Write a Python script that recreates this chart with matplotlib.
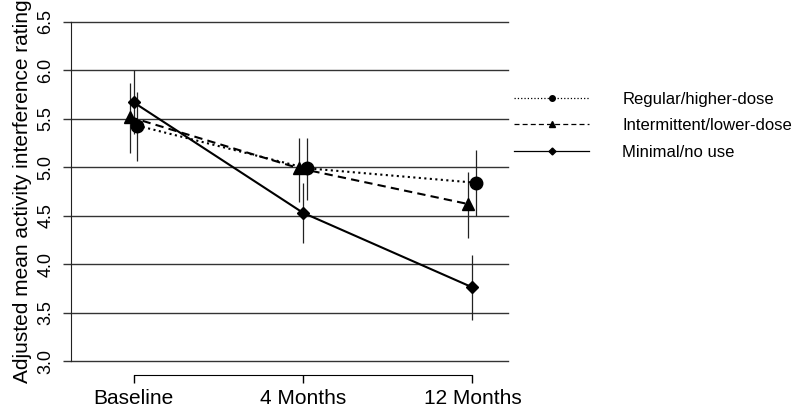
import matplotlib.pyplot as plt
from matplotlib.lines import Line2D
import numpy as np

plt.rcParams["font.family"] = ["Liberation Sans", "DejaVu Sans"]

timepoints = ["Baseline", "4 Months", "12 Months"]

groups = ["Regular/higher-dose", "Intermittent/lower-dose", "Minimal/no use"]

regular_mean = [5.43, 4.99, 4.84]
regular_lo = [5.07, 4.66, 4.50]
regular_hi = [5.78, 5.30, 5.18]

intermittent_mean = [5.52, 4.99, 4.62]
intermittent_lo = [5.15, 4.64, 4.27]
intermittent_hi = [5.87, 5.30, 4.95]

minimal_mean = [5.67, 4.53, 3.76]
minimal_lo = [5.34, 4.22, 3.42]
minimal_hi = [6.00, 4.84, 4.09]

yticks = [3.0, 3.5, 4.0, 4.5, 5.0, 5.5, 6.0, 6.5]

fig = plt.figure(figsize=(8, 4.07), dpi=100)
ax = fig.add_axes([71 / 800, 46 / 407, 437 / 800, 339 / 407])

x = np.arange(1, len(timepoints) + 1)

series = [
    (regular_mean, regular_lo, regular_hi, 0.022, ":", "o", 9, 4),
    (intermittent_mean, intermittent_lo, intermittent_hi, -0.024, (0, (4, 2.5)), "^", 9, 4.5),
    (minimal_mean, minimal_lo, minimal_hi, 0.0, "-", "D", 6, 3.5),
]

handles = []
for (mean, lo, hi, off, ls, mk, ms, lms), name in zip(series, groups):
    xs = x + off
    ax.vlines(xs, lo, hi, color="#222222", lw=0.9, zorder=2)
    ax.plot(xs, mean, color="black", ls=ls, lw=1.5, marker=mk, ms=ms, zorder=3)
    handles.append(Line2D([], [], color="black", ls=ls, lw=0.9, marker=mk, ms=lms))

ax.set_xlim(0.63, 3.21)
ax.set_ylim(3.0, 6.5)

# horizontal reference lines, drawn unclipped so the 3.0 and 6.5 lines show fully
for v in yticks:
    ax.axhline(v, color="#333333", lw=1, clip_on=False, zorder=1)

ax.set_yticks(yticks)
ax.set_yticklabels([f"{v:.1f}" for v in yticks], rotation=90, va="center")
ax.tick_params(axis="y", direction="out", length=5.8, width=1, color="#333333",
               pad=6, labelsize=13)

ax.set_xticks(x)
ax.set_xticklabels(timepoints)
ax.tick_params(axis="x", direction="out", length=5.8, width=1, pad=4, labelsize=15)

for side in ["top", "right"]:
    ax.spines[side].set_visible(False)
ax.spines["left"].set_color("#222222")
ax.spines["bottom"].set_position(("outward", 10))
ax.spines["bottom"].set_bounds(1, 3)

ax.set_ylabel("Adjusted mean activity interference rating", fontsize=15, labelpad=4)

fig.legend(
    handles, groups,
    loc="upper left",
    bbox_to_anchor=(499 / 800, 1 - 77 / 407),
    frameon=False,
    fontsize=12,
    handlelength=4.5,
    handletextpad=2.0,
    labelspacing=0.68,
)

fig.savefig("out.png", dpi=100)
